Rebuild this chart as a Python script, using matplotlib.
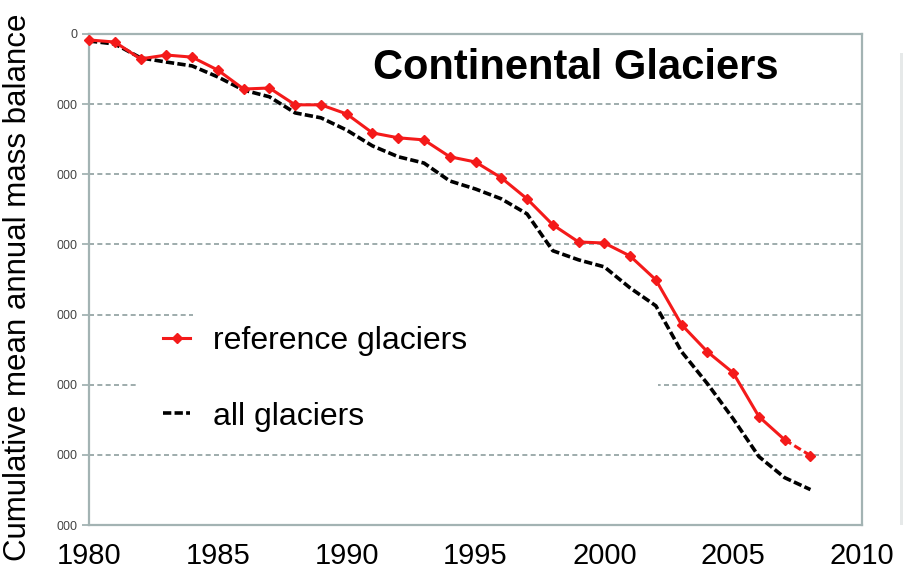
import numpy as np
import matplotlib
matplotlib.use("Agg")
import matplotlib.pyplot as plt
from matplotlib.patches import Rectangle

plt.rcParams['font.family'] = ['Liberation Sans', 'DejaVu Sans']

# cumulative mean annual mass balance
years = np.arange(1980, 2009)
reference = [-170, -230, -710, -600, -660, -1030, -1570, -1540, -2020, -2020,
             -2280, -2820, -2960, -3020, -3500, -3650, -4100, -4700, -5440, -5930,
             -5960, -6330, -7010, -8290, -9060, -9660, -10910, -11570, -12020]
all_glaciers = [-200, -285, -680, -800, -910, -1225, -1600, -1790, -2250, -2390,
                -2740, -3190, -3500, -3680, -4190, -4420, -4700, -5130, -6180, -6440,
                -6640, -7240, -7750, -9060, -9970, -10970, -12050, -12650, -12990]

y_ticks = [0, -2000, -4000, -6000, -8000, -10000, -12000, -14000]
y_labels = ["0", "000", "000", "000", "000", "000", "000", "000"]
x_ticks = [1980, 1985, 1990, 1995, 2000, 2005, 2010]

red = '#f41a1a'
frame = '#a3b3b3'
grid = '#8e9e9e'

fig = plt.figure(figsize=(9.04, 5.77), dpi=100)
ax = fig.add_axes([0.0985, 0.0901, 0.855, 0.851])

ax.set_xlim(1980, 2010)
ax.set_ylim(-14000, 0)
ax.set_axisbelow(True)

ax.set_yticks(y_ticks)
ax.set_yticklabels(y_labels, fontsize=9, color='#444444')
ax.set_xticks(x_ticks)
ax.set_xticklabels([str(t) for t in x_ticks], fontsize=21)
ax.tick_params(axis='y', length=5, width=1.3, color=frame, pad=3)
ax.tick_params(axis='x', length=0, pad=12)

for s in ax.spines.values():
    s.set_color(frame)
    s.set_linewidth(1.6)

for yt in y_ticks[1:-1]:
    ax.axhline(yt, color=grid, lw=1.2, dashes=(3, 2), zorder=0.5)

# white box behind the legend
ax.add_patch(Rectangle((0.1345, 0.295), 0.6015, 0.147, transform=ax.transAxes,
                       facecolor='white', edgecolor='none', zorder=1))
ax.add_patch(Rectangle((0.062, 0.163), 0.674, 0.132, transform=ax.transAxes,
                       facecolor='white', edgecolor='none', zorder=1))

ax.plot(years, all_glaciers, color='black', lw=2.6, dashes=(2.3, 0.9),
        zorder=2, clip_on=False, label='all glaciers')
ax.plot(years[:-1], reference[:-1], color=red, lw=2.2, marker='D', ms=5,
        zorder=3, clip_on=False, label='reference glaciers')
ax.plot(years[-2:], reference[-2:], color=red, lw=2.2, dashes=(2.5, 1.2),
        marker='D', ms=5, markevery=[1], zorder=3, clip_on=False)

handles, labels = ax.get_legend_handles_labels()
ax.legend([handles[1], handles[0]], [labels[1], labels[0]], loc='center left',
          bbox_to_anchor=(0.0957, 0.2975), frameon=False, fontsize=23,
          handlelength=0.85, handletextpad=0.7, labelspacing=1.42,
          borderpad=0, borderaxespad=0, numpoints=1)

ax.text(0.63, 0.931, 'Continental Glaciers', transform=ax.transAxes,
        fontsize=30, fontweight='bold', ha='center', va='center')

fig.text(18 / 904, 0.502, 'Cumulative mean annual mass balance', rotation=90,
         fontsize=22.5, ha='center', va='center')

# light strip at the right edge
fig.patches.append(Rectangle((900 / 904, 1 - 525 / 577), 4 / 904, 472 / 577,
                             transform=fig.transFigure, facecolor='#e6e9e9',
                             edgecolor='none'))

fig.savefig('out.png', dpi=100)
